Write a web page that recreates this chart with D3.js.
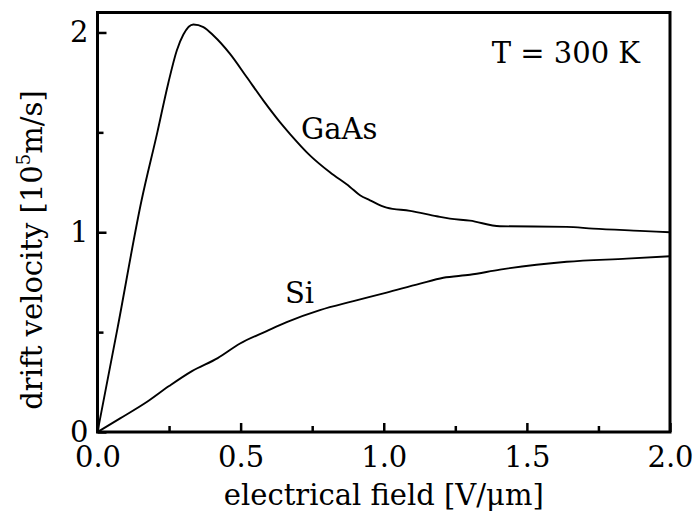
<!DOCTYPE html>
<html>
<head>
<meta charset="utf-8">
<script src="https://cdn.jsdelivr.net/npm/d3@7"></script>
<style>
  html, body { margin: 0; padding: 0; background: #fff; }
  svg text { font-family: "DejaVu Serif", "Liberation Serif", serif; fill: #000; }
</style>
</head>
<body>
<svg id="chart" width="693" height="518"></svg>
<script>
// Electron drift velocity vs. electric field at 300 K
const fieldGaAs = [0, 0.07, 0.154, 0.209, 0.247, 0.277, 0.300, 0.335, 0.370, 0.405, 0.463, 0.521, 0.579, 0.638, 0.672, 0.742, 0.812, 0.882, 0.917, 0.952, 1.010, 1.092, 1.185, 1.231, 1.301, 1.406, 1.639, 1.731, 1.895, 2.0];
const velGaAs   = [0, 0.52, 1.16, 1.50, 1.745, 1.91, 1.99, 2.04, 2.027, 1.985, 1.893, 1.777, 1.66, 1.55, 1.493, 1.385, 1.30, 1.227, 1.185, 1.16, 1.123, 1.107, 1.08, 1.068, 1.058, 1.03, 1.027, 1.018, 1.007, 1.0];

const fieldSi = [0, 0.079, 0.172, 0.25, 0.33, 0.42, 0.498, 0.591, 0.661, 0.777, 0.894, 1.010, 1.127, 1.208, 1.301, 1.406, 1.639, 1.849, 2.0];
const velSi   = [0, 0.068, 0.15, 0.23, 0.305, 0.37, 0.443, 0.505, 0.55, 0.61, 0.655, 0.698, 0.743, 0.772, 0.787, 0.813, 0.852, 0.868, 0.88];

const xMajorTicks = [0, 0.5, 1.0, 1.5, 2.0];
const xMinorTicks = [0.25, 0.75, 1.25, 1.75];
const yMajorTicks = [0, 1, 2];
const yMinorTicks = [0.5, 1.5];

const seriesLabels = ["GaAs", "Si"];
const tempLabel = "T = 300 K";
const xTitle = "electrical field [V/\u03BCm]";

const svg = d3.select("#chart");
const mLeft = 97.5, mRight = 670, mTop = 12.5, mBottom = 432;

const x = d3.scaleLinear().domain([0, 2]).range([mLeft, mRight]);
const y = d3.scaleLinear().domain([0, 2.1]).range([mBottom, mTop]);

const fs = 29;

// curves
const line = d3.line().x(d => x(d[0])).y(d => y(d[1])).curve(d3.curveMonotoneX);
svg.append("path")
  .datum(d3.zip(fieldGaAs, velGaAs))
  .attr("d", line).attr("fill", "none").attr("stroke", "#000").attr("stroke-width", 1.9);
svg.append("path")
  .datum(d3.zip(fieldSi, velSi))
  .attr("d", line).attr("fill", "none").attr("stroke", "#000").attr("stroke-width", 1.9);

// axes with inward ticks
function styleAxis(g) {
  g.select(".domain").remove();
  g.selectAll(".tick line").attr("stroke", "#000").attr("stroke-width", 2.5);
  g.selectAll(".tick text").attr("font-size", fs).attr("font-family", "DejaVu Serif");
}

svg.append("g").attr("transform", `translate(0,${mBottom})`)
  .call(d3.axisBottom(x).tickValues(xMajorTicks).tickSize(-9).tickPadding(14).tickFormat(d3.format(".1f")))
  .call(styleAxis);
svg.append("g").attr("transform", `translate(0,${mBottom})`)
  .call(d3.axisBottom(x).tickValues(xMinorTicks).tickSize(-6).tickFormat(""))
  .call(styleAxis);
svg.append("g").attr("transform", `translate(${mLeft},0)`)
  .call(d3.axisLeft(y).tickValues(yMajorTicks).tickSize(-9).tickPadding(9).tickFormat(d3.format("d")))
  .call(styleAxis);
svg.append("g").attr("transform", `translate(${mLeft},0)`)
  .call(d3.axisLeft(y).tickValues(yMinorTicks).tickSize(-6).tickFormat(""))
  .call(styleAxis);

// frame
svg.append("rect")
  .attr("x", mLeft).attr("y", mTop)
  .attr("width", mRight - mLeft).attr("height", mBottom - mTop)
  .attr("fill", "none").attr("stroke", "#000").attr("stroke-width", 3);

// annotations
svg.append("text").attr("x", 640).attr("y", 63).attr("text-anchor", "end")
  .attr("font-size", fs).text(tempLabel);
svg.append("text").attr("x", 301).attr("y", 139).attr("font-size", fs).text(seriesLabels[0]);
svg.append("text").attr("x", 285).attr("y", 303).attr("font-size", fs).text(seriesLabels[1]);

// axis titles
svg.append("text").attr("x", (mLeft + mRight) / 2).attr("y", 505).attr("text-anchor", "middle")
  .attr("font-size", fs).text(xTitle);

const yt = svg.append("text")
  .attr("transform", "translate(42,250) rotate(-90)")
  .attr("text-anchor", "middle").attr("font-size", fs);
yt.append("tspan").text("drift velocity [10");
yt.append("tspan").attr("font-size", 18).attr("dy", -12).text("5");
yt.append("tspan").attr("dy", 12).text("m/s]");
</script>
</body>
</html>
